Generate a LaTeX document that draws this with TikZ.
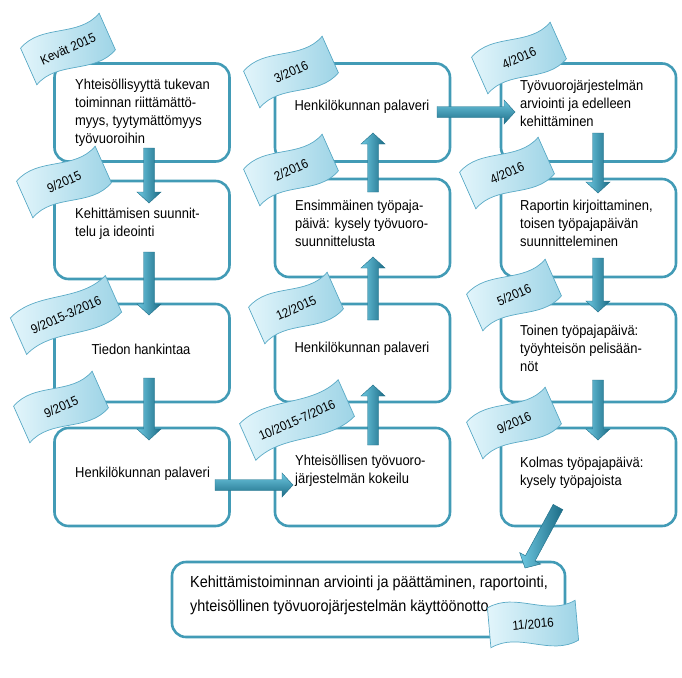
\documentclass[tikz,border=0pt]{standalone}
\usepackage{fontspec}
\setmainfont[FakeStretch=0.9]{Liberation Sans}
\usetikzlibrary{calc}
\definecolor{boxline}{RGB}{66,155,182}
\definecolor{flagA}{RGB}{226,245,251}
\definecolor{flagB}{RGB}{158,212,230}
\definecolor{flagline}{RGB}{90,170,198}
\definecolor{arrL}{RGB}{110,200,225}
\definecolor{arrD}{RGB}{28,108,134}
\definecolor{arrE}{RGB}{30,110,136}
\newcommand\ml[1]{\begin{tabular}[t]{@{}l@{}}#1\end{tabular}}
\tikzset{
  box/.style={draw=boxline, line width=2.6pt, rounded corners=14pt, fill=white,
    minimum width=175pt, minimum height=98pt, inner sep=0pt},
  txt/.style={inner sep=0pt, anchor=base west, font=\fontsize{14.4}{18.3}\selectfont},
  ctxt/.style={txt, anchor=base},
  bigtxt/.style={inner sep=0pt, anchor=base west, font=\fontsize{16}{24}\selectfont},
  flagshape/.style={draw=flagline, line width=0.7pt, left color=flagA, right color=flagB},
  flagtxt/.style={inner sep=0pt, transform shape, font=\fontsize{13}{14}\selectfont},
  arrowbase/.style={draw=arrE, line width=0.4pt, line join=miter},
  vshade/.style={left color=arrL, right color=arrD},
  hshade/.style={top color=arrL, bottom color=arrD},
}
\newcommand\flagbox[5]{%
  \begin{scope}[shift={#1}, rotate=#2, x=1pt, y=1pt]
    \path[flagshape] ({-#3/2},20) .. controls ({-#3/6},34) and ({#3/6},6) .. ({#3/2},20)
      -- ({#3/2},-20) .. controls ({#3/6},-34) and ({-#3/6},-6) .. ({-#3/2},-20) -- cycle;
    \node[flagtxt] (#4) at (0,0) {#5};
  \end{scope}}
\newcommand\barrow[3]{%
  \coordinate (#2h) at ($(#3)!11pt!(#2)$);
  \path[arrowbase,#1] ($(#2)!5.5pt!90:(#3)$) -- ($(#2h)!5.5pt!90:(#3)$)
    -- ($(#2h)!12pt!90:(#3)$) -- (#3) -- ($(#2h)!12pt!-90:(#3)$)
    -- ($(#2h)!5.5pt!-90:(#3)$) -- ($(#2)!5.5pt!-90:(#3)$) -- cycle;}
\begin{document}
\begin{tikzpicture}[x=1pt,y=-1pt]
\useasboundingbox (0,0) rectangle (682,677);
% boxes
\node[box] (b1) at (142,112.5) {};
\node[box] (b2) at (142,230) {};
\node[box] (b3) at (142,353) {};
\node[box] (b4) at (142,477) {};
\node[box] (b5) at (362.5,477) {};
\node[box] (b6) at (362.5,353) {};
\node[box] (b7) at (362.5,228) {};
\node[box] (b8) at (362.5,112.5) {};
\node[box] (b9) at (588.5,112.5) {};
\node[box] (b10) at (588.5,228) {};
\node[box] (b11) at (588.5,353) {};
\node[box] (b12) at (588.5,477) {};
\node[box, minimum width=393pt, minimum height=75pt] (b13) at (368.5,599.5) {};
% texts
\node[txt] (t1) at (75,89) {\ml{Yhteisöllisyyttä tukevan\\toiminnan riittämättö-\\myys, tyytymättömyys\\työvuoroihin}};
\node[txt] (t2) at (75,218) {\ml{Kehittämisen suunnit-\\telu ja ideointi}};
\node[ctxt] (t3) at (141,354) {Tiedon hankintaa};
\node[txt] (t4) at (75,477) {Henkilökunnan palaveri};
\node[txt] (t5) at (295,465) {\ml{Yhteisöllisen työvuoro-\\järjestelmän kokeilu}};
\node[ctxt] (t6) at (362,352) {Henkilökunnan palaveri};
\node[txt] (t7) at (295,210) {\ml{Ensimmäinen työpaja-\\päivä: kysely työvuoro-\\suunnittelusta}};
\node[ctxt] (t8) at (362,110) {Henkilökunnan palaveri};
\node[txt] (t9) at (520,90) {\ml{Työvuorojärjestelmän\\arviointi ja edelleen\\kehittäminen}};
\node[txt] (t10) at (520,210) {\ml{Raportin kirjoittaminen,\\toisen työpajapäivän\\suunnitteleminen}};
\node[txt] (t11) at (520,335) {\ml{Toinen työpajapäivä:\\työyhteisön pelisään-\\nöt}};
\node[txt] (t12) at (520,467) {\ml{Kolmas työpajapäivä:\\kysely työpajoista}};
\node[bigtxt] (t13) at (190,587) {\begin{tabular}[t]{@{}l@{}}Kehittämistoiminnan arviointi ja päättäminen, raportointi,\\yhteisöllinen työvuorojärjestelmän käyttöönotto.\end{tabular}};
% arrow end points
\coordinate (a1s) at (149,148);  \coordinate (a1e) at (149,203);
\coordinate (a2s) at (149,252);  \coordinate (a2e) at (149,315);
\coordinate (a3s) at (149,378);  \coordinate (a3e) at (149,440);
\coordinate (a4s) at (215,485);  \coordinate (a4e) at (293,485);
\coordinate (a5s) at (373,445);  \coordinate (a5e) at (373,385);
\coordinate (a6s) at (373,320);  \coordinate (a6e) at (373,257);
\coordinate (a7s) at (373,192);  \coordinate (a7e) at (373,133);
\coordinate (a8s) at (437,112);  \coordinate (a8e) at (515,112);
\coordinate (a9s) at (598,133);  \coordinate (a9e) at (598,193);
\coordinate (a10s) at (598,258); \coordinate (a10e) at (598,312);
\coordinate (a11s) at (598,380); \coordinate (a11e) at (598,440);
\coordinate (a12s) at (558,507); \coordinate (a12e) at (525,568);
\barrow{vshade}{a1s}{a1e}
\barrow{vshade}{a2s}{a2e}
\barrow{vshade}{a3s}{a3e}
\barrow{hshade}{a4s}{a4e}
\barrow{vshade}{a5s}{a5e}
\barrow{vshade}{a6s}{a6e}
\barrow{vshade}{a7s}{a7e}
\barrow{hshade}{a8s}{a8e}
\barrow{vshade}{a9s}{a9e}
\barrow{vshade}{a10s}{a10e}
\barrow{vshade}{a11s}{a11e}
\barrow{vshade}{a12s}{a12e}
% flags
\flagbox{(68,49)}{24}{86}{f1}{Kevät 2015}
\flagbox{(291,72)}{24}{86}{f2}{3/2016}
\flagbox{(519,58)}{24}{86}{f3}{4/2016}
\flagbox{(64,182)}{24}{86}{f4}{9/2015}
\flagbox{(291,170)}{24}{86}{f5}{2/2016}
\flagbox{(507,173)}{24}{86}{f6}{4/2016}
\flagbox{(66,315)}{24}{104}{f7}{9/2015-3/2016}
\flagbox{(296,308)}{24}{86}{f8}{12/2015}
\flagbox{(514,295)}{24}{86}{f9}{5/2016}
\flagbox{(61,407)}{24}{86}{f10}{9/2015}
\flagbox{(297,420)}{24}{108}{f11}{10/2015-7/2016}
\flagbox{(514,423)}{24}{86}{f12}{9/2016}
\flagbox{(533,624)}{5}{88}{f13}{11/2016}
\end{tikzpicture}
\end{document}
